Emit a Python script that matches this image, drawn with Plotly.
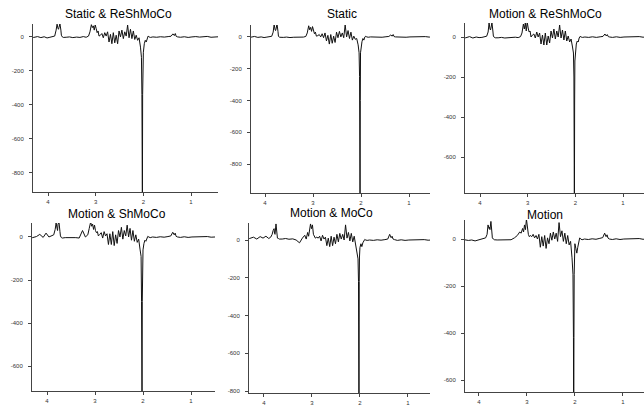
import plotly.graph_objects as go

W, H = 644, 406

# Shared chemical-shift grid (ppm)
ppm = [4.40, 4.30, 4.22, 4.15, 4.08, 4.02, 3.96, 3.90, 3.86,
       3.83, 3.81, 3.79, 3.78, 3.77, 3.75, 3.73, 3.72, 3.70, 3.68,
       3.62, 3.55, 3.48, 3.40, 3.33, 3.26, 3.20, 3.15,
       3.12, 3.09, 3.07, 3.05, 3.03, 3.01, 2.99, 2.97, 2.95, 2.93,
       2.90, 2.87, 2.84, 2.81, 2.78, 2.75, 2.72, 2.69, 2.66, 2.63, 2.60, 2.57, 2.54, 2.51,
       2.48, 2.45, 2.42, 2.39, 2.36, 2.33, 2.30, 2.27, 2.24, 2.21, 2.18, 2.15, 2.12, 2.09,
       2.06, 2.04, 2.03, 2.025, 2.02, 2.015, 2.01, 2.00, 1.98, 1.96, 1.94, 1.92, 1.90, 1.88, 1.85,
       1.80, 1.72, 1.64, 1.56, 1.48, 1.42, 1.38, 1.35, 1.33, 1.31, 1.28, 1.22, 1.14, 1.06,
       0.98, 0.90, 0.82, 0.74, 0.66, 0.58, 0.50, 0.42]

titles = ["Static & ReShMoCo", "Static", "Motion & ReShMoCo",
          "Motion & ShMoCo", "Motion & MoCo", "Motion"]

static_reshmoco = ([0, -3, 2, -4, 1, -6, -2, 3, 5]
                   + [40, 75, 50, 45, 55, 78, 40, 10, 0, -3]
                   + [-2, 0, -4, -1, -3, 2, -2, 5]
                   + [30, 72, 55, 65, 40, 70, 50, 25, 35, 5]
                   + [10, 20, -5, 25, 5, 30, -30, 15, -40, 25, -35, 10, -40, 35, 0, 40, -10, 30, 5, 70,
                      -5, 45, -10, 35, -15, 10, -20, -5]
                   + [-60, -120, -340, -570, -1000, -340, -120, -90, -40, -20, -30, -8, 5, 0, -3]
                   + [0, -2, 1, -1, 2, 4, 18, 8, 20, 3, 0, -2, 1, -3, 0, 2, -1, 0, 3, -2, 0, 1])

static = ([0, -2, 3, -3, 0, -4, -1, 2, 4]
          + [30, 80, 45, 40, 50, 82, 35, 5, -2, -3]
          + [-3, -1, -4, -2, -3, 0, -1, 3]
          + [25, 70, 45, 60, 35, 65, 40, 20, 30, 5]
          + [8, 15, 0, 20, -5, 25, -25, 10, -45, 15, -40, 5, -35, 30, -5, 35, 0, 25, -5, 75,
             0, 40, -10, 30, -20, 5, -15, -10]
          + [-50, -100, -250, -660, -1100, -400, -100, -60, -30, -10, -20, 0, 4, 0, -2]
          + [0, -1, 2, -2, 1, 3, 12, 5, 15, 2, 0, -1, 2, -2, 0, 1, -1, 0, 2, -1, 0, 1])

motion_reshmoco = ([0, -4, 2, -5, 0, -3, -2, 1, 4]
                   + [25, 70, 40, 35, 45, 72, 30, 5, -2, -4]
                   + [-4, -2, -5, -3, -4, -1, -3, 2]
                   + [20, 65, 40, 70, 30, 75, 45, 25, 30, 0]
                   + [10, 15, -5, 25, 0, 20, -35, 10, -40, 20, -40, 5, -30, 30, -5, 40, -10, 30, 0, 60,
                      -5, 35, -15, 30, -20, 5, -25, -10]
                   + [-50, -80, -200, -500, -900, -330, -120, -60, -35, -20, -25, -5, 3, 0, -2]
                   + [0, -2, 1, -2, 1, 3, 15, 5, 12, 2, 0, -2, 1, -2, 0, 1, -1, 0, 2, -1, 0, 1])

motion_shmoco = ([0, -3, 2, 12, -2, 18, 0, 5, 10]
                 + [35, 65, 40, 30, 60, 68, 25, 5, -3, -5]
                 + [-3, -2, -4, -3, -5, 30, 0, 10]
                 + [40, 70, 50, 60, 35, 55, 30, 20, 25, 5]
                 + [12, 20, -5, 25, 5, 15, -35, 15, -35, 25, -40, 10, -30, 30, 0, 45, -10, 30, 5, 55,
                    0, 40, -15, 30, -20, 10, -25, -10]
                 + [-60, -90, -300, -440, -800, -300, -90, -60, -30, -15, -20, -5, 3, 0, -3]
                 + [0, -2, 1, -1, 2, 5, 22, 10, 18, 3, 0, -2, 1, -2, 0, 1, -1, 0, 2, -1, 0, 1])

motion_moco = ([12, 8, 15, 5, 18, 10, 20, 8, 15]
               + [30, 50, 60, 35, 30, 85, 40, 10, 8, 5]
               + [5, 8, 4, 6, 0, -15, 10, 25]
               + [5, 40, 20, 55, 85, 60, 80, 30, 20, 10]
               + [15, 10, 20, -5, 25, 5, 15, -30, 10, -35, 20, -30, 15, -20, 30, -10, 35, 5, 30, 0,
                  80, 10, 40, -5, 35, -10, 20, -20]
               + [-60, -100, -220, -590, -1000, -220, -90, -40, -20, -35, -15, -5, 3, 0, -2]
               + [0, -2, 1, -1, 2, 5, 30, 12, 20, 5, 2, -2, 1, -2, 0, 1, -1, 0, 2, -1, 0, 1])

motion = ([-5, -3, -6, -4, -8, -5, -3, 0, 5]
          + [20, 60, 45, 50, 40, 75, 30, 5, 0, -3]
          + [-4, -3, -5, -4, -3, 5, 15, 30]
          + [25, 45, 30, 60, 40, 85, 50, 20, 10, 15]
          + [10, 20, 5, 15, 0, 20, -35, 10, -30, 15, -40, 5, -20, 25, -5, 30, 0, 25, -10, 70,
             10, 35, -10, 25, -20, 15, -25, -10]
          + [-80, -150, -420, -900, -420, -150, -60, -20, -40, -60, -35, -10, 5, 0, -3]
          + [0, -2, 1, -1, 3, 6, 25, 10, 18, 4, 0, -2, 1, -2, 0, 1, -1, 0, 2, -1, 0, 1])

series = [static_reshmoco, static, motion_reshmoco, motion_shmoco, motion_moco, motion]

x_ticks = [4, 3, 2, 1]
y_ticks = [[0, -200, -400, -600, -800],
           [0, -200, -400, -600, -800],
           [0, -200, -400, -600],
           [0, -200, -400, -600],
           [0, -200, -400, -600, -800],
           [0, -200, -400, -600]]

# pixel boxes (left, right, top, bottom) and axis ranges
boxes = [(33, 218, 24, 192), (251, 430, 25, 193), (465, 644, 23, 193),
         (32, 215, 223, 391), (249, 430, 223, 393), (465, 644, 220, 392)]
x_ranges = [[4.315, 0.434], [4.292, 0.5625], [4.315, 0.56],
            [4.3125, 0.5], [4.3125, 0.54], [4.29, 0.56]]
y_ranges = [[-912, 76], [-982, 75], [-780, 70],
            [-716, 65], [-810, 90], [-651, 81]]
title_pos = [(119, 14), (342, 14), (545, 14), (117, 214), (331, 213), (545, 215)]

fig = go.Figure()
layout = dict(width=W, height=H, margin=dict(l=0, r=0, t=0, b=0),
              paper_bgcolor="white", plot_bgcolor="white", showlegend=False,
              font=dict(family="Liberation Sans, Arial, sans-serif", color="#000"))
annotations = []
for i in range(6):
    assert len(series[i]) == len(ppm), (i, len(series[i]), len(ppm))
    n = "" if i == 0 else str(i + 1)
    l, r, t, b = boxes[i]
    fig.add_trace(go.Scatter(x=ppm, y=series[i], mode="lines",
                             line=dict(color="#111", width=1),
                             xaxis="x" + n, yaxis="y" + n, hoverinfo="skip"))
    axcommon = dict(showline=True, linecolor="#444", linewidth=1, ticks="outside",
                    ticklen=3, tickcolor="#444", tickwidth=1, showgrid=False,
                    zeroline=False, tickfont=dict(size=6, color="#333"))
    layout["xaxis" + n] = dict(domain=[l / W, r / W], range=x_ranges[i],
                               anchor="y" + n, tickvals=x_ticks,
                               ticktext=[str(v) for v in x_ticks],
                               ticklabelstandoff=1, **axcommon)
    layout["yaxis" + n] = dict(domain=[1 - b / H, 1 - t / H], range=y_ranges[i],
                               anchor="x" + n, tickvals=y_ticks[i],
                               ticktext=[str(v) for v in y_ticks[i]],
                               ticklabelstandoff=4, **axcommon)
    tx, ty = title_pos[i]
    annotations.append(dict(text=titles[i], x=tx / W, y=1 - ty / H, xref="paper", yref="paper",
                            xanchor="center", yanchor="middle", showarrow=False,
                            font=dict(size=12, color="#000")))
layout["annotations"] = annotations
fig.update_layout(**layout)
fig.write_html("out.html", config={"displayModeBar": False, "staticPlot": True},
               post_script="document.body.style.margin='0';document.body.style.overflow='hidden';")
